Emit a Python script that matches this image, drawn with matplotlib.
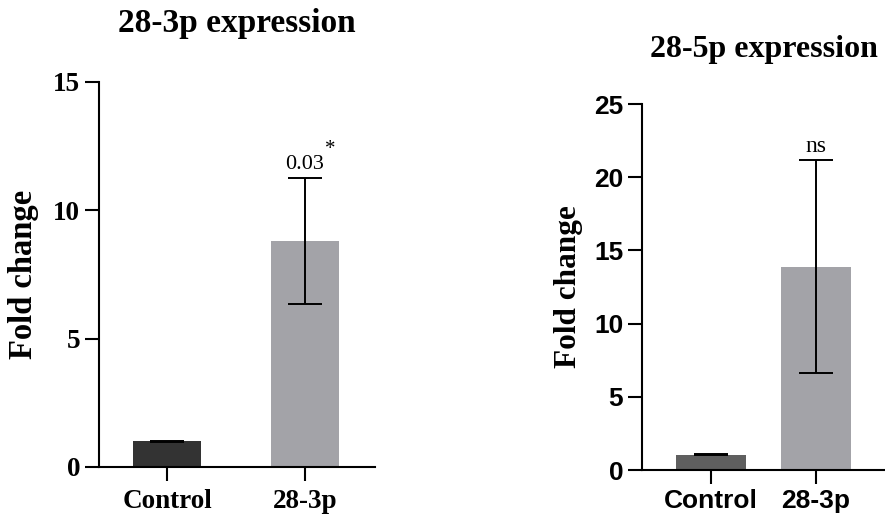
import matplotlib.pyplot as plt

groups = ["Control", "28-3p"]

mean_3p = [1.0, 8.8]
err_3p = [0.03, 2.45]

mean_5p = [1.05, 13.9]
err_5p = [0.05, 7.3]

serif = "Liberation Serif"
sans = "Liberation Sans"

fig = plt.figure(figsize=(8.85, 5.19), dpi=100)

ax1 = fig.add_axes([0.1119, 0.1002, 0.3118, 0.742])
ax2 = fig.add_axes([0.7254, 0.0944, 0.2746, 0.7052])


def draw_panel(ax, means, errs, colors, width, xlim, ymax, ystep, tick_font, tick_size):
    x = range(len(means))
    ax.bar(x, means, width=width, color=colors, zorder=1)
    ax.errorbar(x, means, yerr=errs, fmt="none", ecolor="black",
                elinewidth=1.4, capsize=12.5, capthick=1.4, zorder=2)
    ax.set_xlim(*xlim)
    ax.set_ylim(0, ymax)
    ax.set_yticks(range(0, ymax + 1, ystep))
    ax.set_xticks(list(x))
    ax.set_xticklabels(groups)
    for s in ["top", "right"]:
        ax.spines[s].set_visible(False)
    for s in ["left", "bottom"]:
        ax.spines[s].set_linewidth(1.5)
    ax.tick_params(axis="both", length=10, width=1.5)
    ax.tick_params(axis="x", pad=6)
    for lab in ax.get_xticklabels() + ax.get_yticklabels():
        lab.set_fontfamily(tick_font)
        lab.set_fontweight("bold")
        lab.set_fontsize(tick_size)


draw_panel(ax1, mean_3p, err_3p, ["#333333", "#a3a3a8"], 0.49,
           (-0.493, 1.507), 15, 5, serif, 19.5)
ax1.set_ylabel("Fold change", fontfamily=serif, fontweight="bold", fontsize=23.5, labelpad=10)
ax1.set_title("28-3p expression", fontfamily=serif, fontweight="bold", fontsize=24, pad=36)
ax1.text(1, mean_3p[1] + err_3p[1] + 0.15, "0.03", ha="center", va="bottom",
         fontfamily=serif, fontsize=16)
ax1.text(1.18, mean_3p[1] + err_3p[1] + 1.1, "*", ha="center", va="center",
         fontfamily=serif, fontsize=15)

draw_panel(ax2, mean_5p, err_5p, ["#5f5f5f", "#a3a3a8"], 0.667,
           (-0.657, 1.657), 25, 5, sans, 19)
ax2.tick_params(axis="x", pad=4)
ax2.set_ylabel("Fold change", fontfamily=serif, fontweight="bold", fontsize=22.5, labelpad=8)
ax2.set_title("28-5p expression", fontfamily=serif, fontweight="bold", fontsize=23, pad=34)
ax2.text(1, mean_5p[1] + err_5p[1] + 0.2, "ns", ha="center", va="bottom",
         fontfamily=serif, fontsize=17)

fig.savefig("out.png", dpi=100)
